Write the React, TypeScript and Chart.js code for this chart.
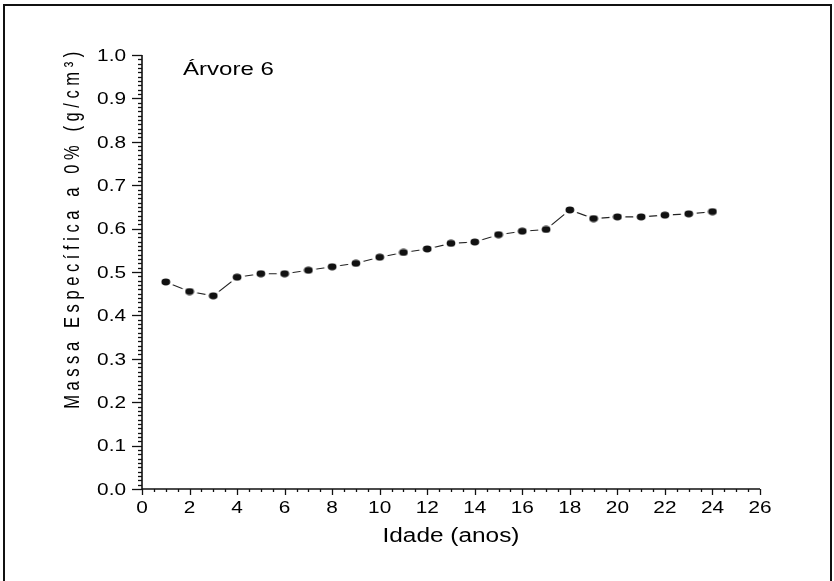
import React, { useEffect, useRef } from "react";
import { Chart, registerables } from "chart.js";

Chart.register(...registerables);

const ages: number[] = [1, 2, 3, 4, 5, 6, 7, 8, 9, 10, 11, 12, 13, 14, 15, 16, 17, 18, 19, 20, 21, 22, 23, 24];
const density: number[] = [
  0.477, 0.455, 0.445, 0.488, 0.496, 0.496, 0.504, 0.512, 0.520, 0.534, 0.545, 0.553,
  0.566, 0.569, 0.586, 0.594, 0.598, 0.643, 0.623, 0.627, 0.627, 0.631, 0.634, 0.639,
];
const xTitle = "Idade (anos)";
const yTitle = "Massa Específica a 0% (g/cm³)";
const annotation = "Árvore 6";
const xMin = 0, xMax = 26, xStep = 2, xMinorStep = 0.5;
const yMin = 0, yMax = 1, yStep = 0.1, yMinorStep = 0.01;

const FONT = '"Liberation Sans", Arial, sans-serif';

function makeEllipse(w: number, h: number, rx: number, ry: number, color: string) {
  const c = document.createElement("canvas");
  c.width = w;
  c.height = h;
  const g = c.getContext("2d")!;
  g.fillStyle = color;
  g.beginPath();
  g.ellipse(w / 2, h / 2, rx, ry, 0, 0, Math.PI * 2);
  g.fill();
  return c;
}

function stretchedText(ctx: CanvasRenderingContext2D, text: string, x: number, y: number, align: CanvasTextAlign, size: number, sx: number) {
  ctx.save();
  ctx.font = `${size}px ${FONT}`;
  ctx.fillStyle = "#000";
  ctx.textBaseline = "alphabetic";
  ctx.translate(x, y);
  ctx.scale(sx, 1);
  ctx.textAlign = align;
  ctx.fillText(text, 0, 0);
  ctx.restore();
}

const decorPlugin = {
  id: "decor",
  afterDraw(chart: any) {
    const ctx: CanvasRenderingContext2D = chart.ctx;
    const xs = chart.scales.x;
    const ys = chart.scales.y;
    const { left, right, top, bottom } = chart.chartArea;
    ctx.save();
    // outer frame
    ctx.strokeStyle = "#111";
    ctx.lineWidth = 2;
    ctx.beginPath();
    ctx.moveTo(4, 600);
    ctx.lineTo(4, 5);
    ctx.lineTo(831, 5);
    ctx.lineTo(831, 600);
    ctx.stroke();

    // axes
    ctx.lineWidth = 1.6;
    ctx.beginPath();
    ctx.moveTo(left, top);
    ctx.lineTo(left, bottom);
    ctx.lineTo(right, bottom);
    ctx.stroke();

    // y ticks
    ctx.lineWidth = 1.3;
    const nY = Math.round((yMax - yMin) / yMinorStep);
    const majorEveryY = Math.round(yStep / yMinorStep);
    for (let i = 0; i <= nY; i++) {
      const v = yMin + i * yMinorStep;
      const py = Math.round(ys.getPixelForValue(v)) + 0.5;
      const len = i % majorEveryY === 0 ? 10 : 4;
      ctx.beginPath();
      ctx.moveTo(left, py);
      ctx.lineTo(left - len, py);
      ctx.stroke();
    }
    // x ticks
    const nX = Math.round((xMax - xMin) / xMinorStep);
    const majorEveryX = Math.round(xStep / xMinorStep);
    for (let i = 0; i <= nX; i++) {
      const v = xMin + i * xMinorStep;
      const px = Math.round(xs.getPixelForValue(v)) + 0.5;
      const len = i % majorEveryX === 0 ? 6 : 3;
      ctx.beginPath();
      ctx.moveTo(px, bottom);
      ctx.lineTo(px, bottom + len);
      ctx.stroke();
    }

    // tick labels from the scales' ticks
    for (const t of ys.ticks) {
      const py = ys.getPixelForValue(t.value);
      stretchedText(ctx, Number(t.value).toFixed(1), 126, py + 5.8, "right", 16, 1.3);
    }
    for (const t of xs.ticks) {
      const px = xs.getPixelForValue(t.value);
      stretchedText(ctx, String(Math.round(t.value)), px, 513, "center", 16, 1.3);
    }

    // titles
    stretchedText(ctx, xTitle, (left + right) / 2, 542, "center", 20, 1.22);
    stretchedText(ctx, annotation, 183, 75, "left", 18.5, 1.3);

    ctx.save();
    ctx.font = `16.5px ${FONT}`;
    (ctx as any).letterSpacing = "4.6px";
    ctx.fillStyle = "#000";
    ctx.textAlign = "center";
    ctx.textBaseline = "alphabetic";
    ctx.translate(79, 228);
    ctx.rotate(-Math.PI / 2);
    ctx.scale(1, 1.38);
    ctx.fillText(yTitle, 0, 0);
    ctx.restore();

    ctx.restore();
  },
};

export default function App() {
  const ref = useRef<HTMLCanvasElement | null>(null);
  useEffect(() => {
    if (!ref.current) return;
    const marker = makeEllipse(10, 8, 4.4, 3.4, "#111");
    const halo = makeEllipse(20, 16, 8, 6.5, "#ffffff");
    const pts = ages.map((a, i) => ({ x: a, y: density[i] }));
    const chart = new Chart(ref.current, {
      type: "scatter",
      data: {
        datasets: [
          {
            data: pts,
            showLine: true,
            borderColor: "#222",
            borderWidth: 1.1,
            pointRadius: 0,
            fill: false,
            tension: 0,
            order: 3,
          } as any,
          {
            data: pts,
            showLine: false,
            pointStyle: halo,
            pointRadius: 7,
            order: 2,
          } as any,
          {
            data: pts,
            showLine: false,
            pointStyle: marker,
            pointRadius: 4,
            order: 1,
          } as any,
        ],
      },
      options: {
        responsive: false,
        animation: false,
        devicePixelRatio: 1,
        layout: { padding: { top: 55, right: 74, left: 0, bottom: 0 } },
        plugins: { legend: { display: false }, tooltip: { enabled: false }, title: { display: false } },
        scales: {
          x: {
            type: "linear",
            min: xMin,
            max: xMax,
            ticks: { display: false, stepSize: xStep },
            grid: { display: false, drawTicks: false },
            border: { display: false },
            afterFit: (s: any) => { s.height = 92; },
          },
          y: {
            type: "linear",
            min: yMin,
            max: yMax,
            ticks: { display: false, stepSize: yStep },
            grid: { display: false, drawTicks: false },
            border: { display: false },
            afterFit: (s: any) => { s.width = 142; },
          },
        },
      } as any,
      plugins: [decorPlugin],
    });
    return () => chart.destroy();
  }, []);
  return (
    <div style={{ position: "absolute", left: 0, top: 0, width: 834, height: 581, background: "#fff" }}>
      <canvas ref={ref} width={834} height={581} style={{ width: 834, height: 581, display: "block" }} />
    </div>
  );
}
